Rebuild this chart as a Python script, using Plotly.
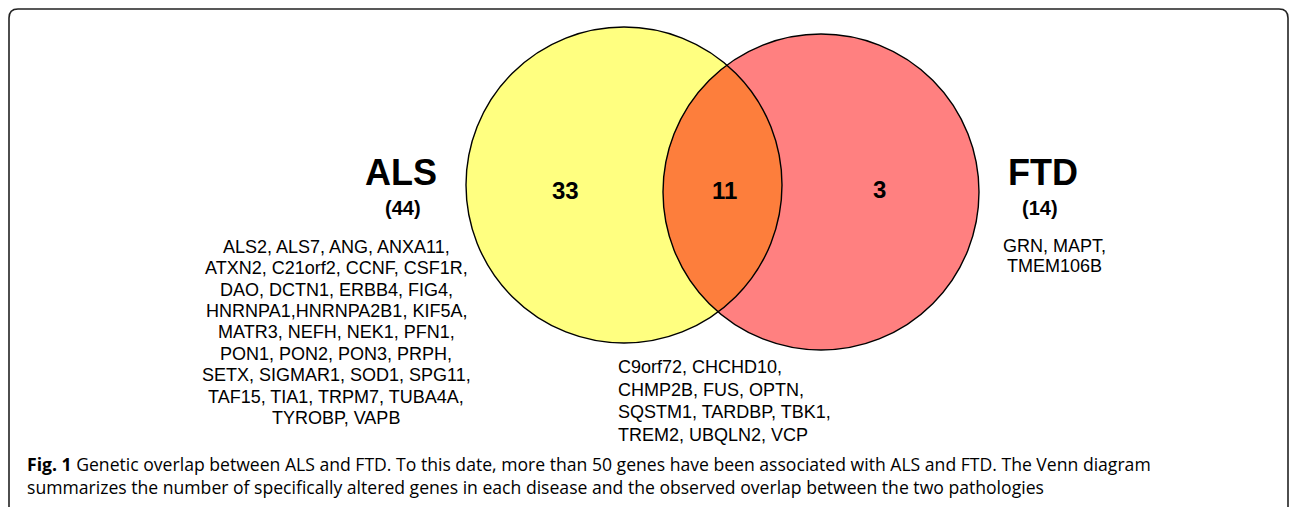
import numpy as np
import plotly.graph_objects as go

# ---- data ----
set_names = ["ALS", "FTD"]
set_totals = [44, 14]
region_counts = [33, 11, 3]          # ALS only, both, FTD only
als_only_genes = [
    "ALS2, ALS7, ANG, ANXA11,",
    "ATXN2, C21orf2, CCNF, CSF1R,",
    "DAO, DCTN1, ERBB4, FIG4,",
    "HNRNPA1,HNRNPA2B1, KIF5A,",
    "MATR3, NEFH, NEK1, PFN1,",
    "PON1, PON2, PON3, PRPH,",
    "SETX, SIGMAR1, SOD1, SPG11,",
    "TAF15, TIA1, TRPM7, TUBA4A,",
    "TYROBP, VAPB",
]
shared_genes = [
    "C9orf72, CHCHD10,",
    "CHMP2B, FUS, OPTN,",
    "SQSTM1, TARDBP, TBK1,",
    "TREM2, UBQLN2, VCP",
]
ftd_only_genes = ["GRN, MAPT,", "TMEM106B"]
caption_lines = [
    "<b>Fig. 1</b> Genetic overlap between ALS and FTD. To this date, more than 50 genes have been associated with ALS and FTD. The Venn diagram",
    "summarizes the number of specifically altered genes in each disease and the observed overlap between the two pathologies",
]

# ---- geometry (pixel-like data coordinates) ----
W, H = 1290, 507
c1 = np.array([624.0, 185.0]); r1 = 158.0
c2 = np.array([821.0, 192.0]); r2 = 158.0
YELLOW = "#FFFF80"
RED = "#FF8080"
ORANGE = "#FD7E3C"
SANS = "Liberation Sans, Arial, sans-serif"

fig = go.Figure()
fig.add_trace(go.Scatter(x=[0, W], y=[0, H], mode="markers",
                         marker=dict(opacity=0), hoverinfo="skip", showlegend=False))

shapes = []
# frame
rr = 9
fx0, fy0, fx1 = 9, 9, 1288
frame_path = (f"M {fx0},{H+20} L {fx0},{fy0+rr} Q {fx0},{fy0} {fx0+rr},{fy0} "
              f"L {fx1-rr},{fy0} Q {fx1},{fy0} {fx1},{fy0+rr} L {fx1},{H+20}")
shapes.append(dict(type="path", path=frame_path, line=dict(color="#222222", width=1.6),
                   xref="x", yref="y", layer="above"))

def circ(c, r, fill, line):
    return dict(type="circle", xref="x", yref="y", x0=c[0]-r, x1=c[0]+r,
                y0=c[1]-r, y1=c[1]+r, fillcolor=fill, line=line, layer="above")

shapes.append(circ(c1, r1, YELLOW, dict(width=0)))
shapes.append(circ(c2, r2, RED, dict(width=0)))

# lens
d = np.linalg.norm(c2 - c1)
a = (r1**2 - r2**2 + d**2) / (2*d)
al1 = np.arccos(a / r1)
al2 = np.arccos((d - a) / r2)
t12 = np.arctan2(c2[1]-c1[1], c2[0]-c1[0])
t21 = np.arctan2(c1[1]-c2[1], c1[0]-c2[0])
th1 = np.linspace(t12 - al1, t12 + al1, 120)
arc1 = np.c_[c1[0] + r1*np.cos(th1), c1[1] + r1*np.sin(th1)]
th2 = np.linspace(t21 - al2, t21 + al2, 120)
arc2 = np.c_[c2[0] + r2*np.cos(th2), c2[1] + r2*np.sin(th2)]
if np.linalg.norm(arc2[0] - arc1[-1]) > np.linalg.norm(arc2[-1] - arc1[-1]):
    arc2 = arc2[::-1]
pts = np.vstack([arc1, arc2])
lens = "M " + " L ".join(f"{x:.2f},{y:.2f}" for x, y in pts) + " Z"
shapes.append(dict(type="path", path=lens, fillcolor=ORANGE, line=dict(width=0),
                   xref="x", yref="y", layer="above"))
shapes.append(circ(c1, r1, "rgba(0,0,0,0)", dict(color="black", width=1.4)))
shapes.append(circ(c2, r2, "rgba(0,0,0,0)", dict(color="black", width=1.4)))

ann = []
def txt(x, y, s, size, bold=False, xanchor="center", family=SANS):
    ann.append(dict(x=x, y=y, xref="x", yref="y", text=(f"<b>{s}</b>" if bold else s),
                    showarrow=False, xanchor=xanchor, yanchor="middle",
                    font=dict(family=family, size=size, color="black")))

# set labels
txt(401, 172, set_names[0], 36, True)
txt(403, 208, f"({set_totals[0]})", 20, True)
txt(1043, 172, set_names[1], 36, True)
txt(1040, 208, f"({set_totals[1]})", 20, True)

# region counts
txt(565, 190, str(region_counts[0]), 24, True)
txt(724, 190, str(region_counts[1]), 24, True)
txt(879, 189, str(region_counts[2]), 24, True)

# gene lists
for i, line in enumerate(als_only_genes):
    txt(336, 246.7 + i*21.4, line, 18)
for i, line in enumerate(shared_genes):
    txt(616, 366.7 + i*22.8, line, 18, xanchor="left")
for i, line in enumerate(ftd_only_genes):
    txt(1054, 246 + i*20, line, 18)

# caption
for i, line in enumerate(caption_lines):
    txt(25, 464 + i*23, line, 17.6, xanchor="left", family="Open Sans, sans-serif")

fig.update_layout(
    width=W, height=H, margin=dict(l=0, r=0, t=0, b=0),
    paper_bgcolor="white", plot_bgcolor="white",
    xaxis=dict(range=[0, W], visible=False, fixedrange=True),
    yaxis=dict(range=[H, 0], visible=False, fixedrange=True),
    shapes=shapes, annotations=ann, showlegend=False,
)
post = ("document.body.style.margin='0';"
        "var gd=document.getElementById('{plot_id}');"
        "document.fonts.ready.then(function(){Plotly.newPlot(gd, gd.data, gd.layout, gd._context);});")
fig.write_html("out.html", post_script=post, config={"displayModeBar": False})
